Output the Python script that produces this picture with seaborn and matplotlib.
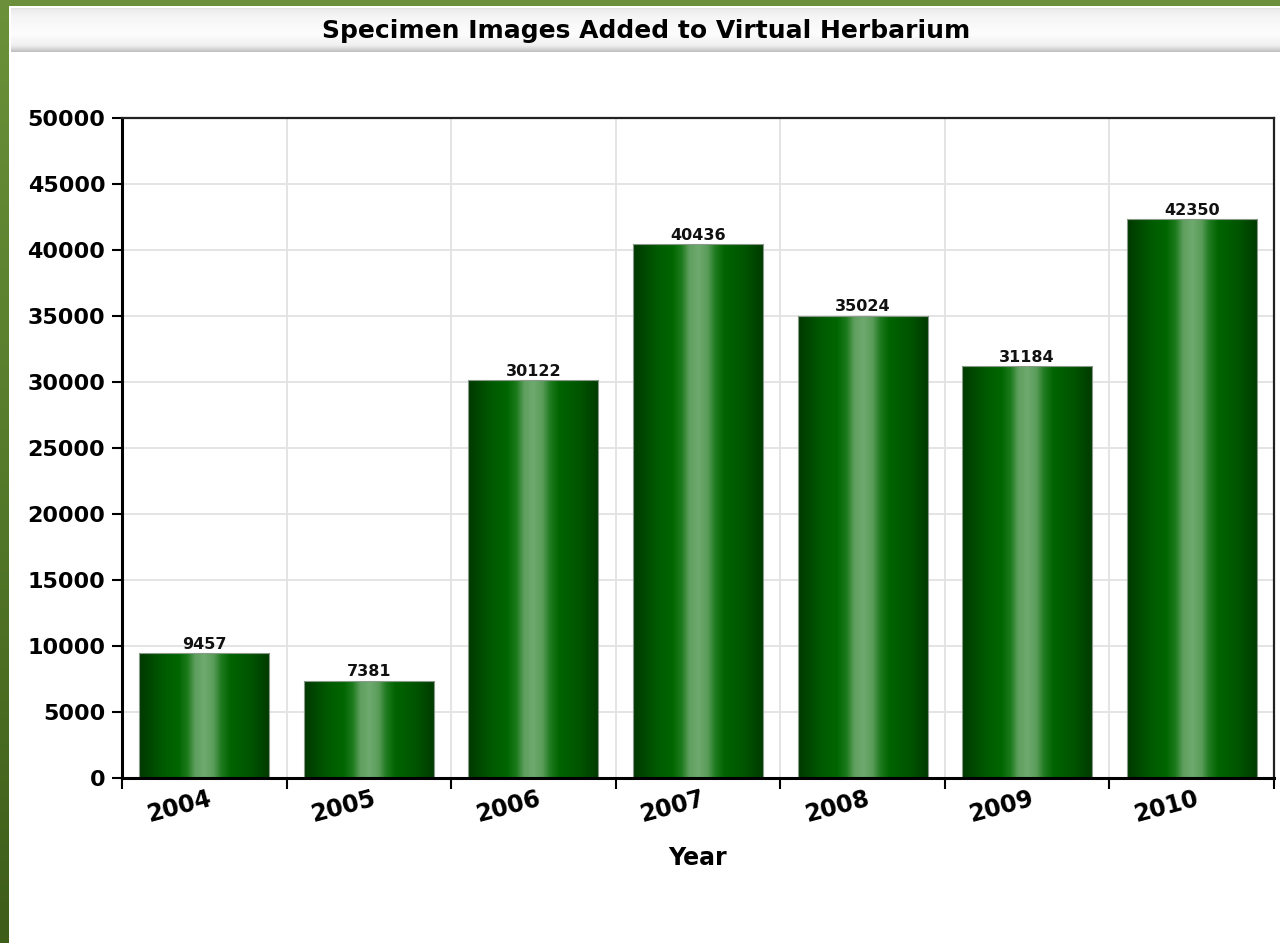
import numpy as np
import pandas as pd
import matplotlib
matplotlib.use("Agg")
import matplotlib.pyplot as plt
import seaborn as sns
from matplotlib.colors import LinearSegmentedColormap
from matplotlib.transforms import ScaledTranslation

# ---- data ----
years = ["2004", "2005", "2006", "2007", "2008", "2009", "2010"]
images_added = [9457, 7381, 30122, 40436, 35024, 31184, 42350]
y_ticks = [0, 5000, 10000, 15000, 20000, 25000, 30000, 35000, 40000, 45000, 50000]
title = "Specimen Images Added to Virtual Herbarium"
x_label = "Year"

sns.set_theme(style="white")
plt.rcParams["font.family"] = ["DejaVu Sans"]
plt.rcParams["text.color"] = "black"
plt.rcParams["axes.labelcolor"] = "black"
plt.rcParams["xtick.color"] = "black"
plt.rcParams["ytick.color"] = "black"

W, H = 1280, 943
fig = plt.figure(figsize=(W / 100, H / 100), dpi=100)
fig.patch.set_facecolor("white")


def px_axes(x0, y0, x1, y1, **kw):
    return fig.add_axes([x0 / W, 1 - y1 / H, (x1 - x0) / W, (y1 - y0) / H], **kw)


# ---- frame decorations (green page border + title bar) ----
strip = px_axes(0, 0, 9, H)
strip.imshow(np.linspace(0, 1, 256).reshape(-1, 1), aspect="auto",
             cmap=LinearSegmentedColormap.from_list("g", ["#6b913a", "#557a2a", "#3d5d19"]),
             extent=[0, 1, 0, 1], origin="upper")
strip.set_axis_off()
top = px_axes(0, 0, W, 6)
top.set_facecolor("#6b8f3a")
top.set_xticks([]); top.set_yticks([])
for s in top.spines.values():
    s.set_visible(False)

tbar = px_axes(11, 8, W, 52)
tb_cmap = LinearSegmentedColormap.from_list(
    "tb", [(0, "#dcdcdc"), (0.08, "#eeeeee"), (0.25, "#f6f6f6"), (0.6, "#fdfdfd"),
           (0.85, "#f0f0f0"), (0.93, "#d8d8d8"), (1, "#bdbdbd")])
tbar.imshow(np.linspace(0, 1, 256).reshape(-1, 1), aspect="auto", cmap=tb_cmap,
            extent=[0, 1, 0, 1], origin="upper")
tbar.set_axis_off()
fig.text(646 / W, 1 - 31 / H, title, ha="center", va="center",
         fontsize=18, fontweight="bold", color="black")

# ---- main chart ----
ax = px_axes(122, 118, 1274, 778)
df = pd.DataFrame({"Year": years, "Images": images_added})
sns.barplot(data=df, x="Year", y="Images", ax=ax, color="#006400",
            width=0.79, saturation=1, edgecolor="#8a9a8a", linewidth=0.8)

bar_cmap = LinearSegmentedColormap.from_list(
    "bar", [(0.0, "#003800"), (0.18, "#005a00"), (0.3, "#006600"), (0.37, "#1c7a1c"),
            (0.43, "#5f9f5f"), (0.5, "#6eaa6e"), (0.57, "#5a9c5a"), (0.63, "#1e7a1e"),
            (0.7, "#006400"), (0.85, "#005500"), (1.0, "#003a00")])
grad = np.linspace(0, 1, 256).reshape(1, -1)
for p in ax.patches:
    x, w, h = p.get_x(), p.get_width(), p.get_height()
    im = ax.imshow(grad, cmap=bar_cmap, aspect="auto",
                   extent=[x, x + w, 0, h], zorder=p.get_zorder() - 0.01)
    im.set_clip_path(p)
    p.set_facecolor("none")

for c in ax.containers:
    ax.bar_label(c, labels=[str(v) for v in images_added], padding=1,
                 fontsize=11.5, fontweight="bold", color="#111111")

ax.set_xlim(-0.5, len(years) - 0.5)
ax.set_ylim(0, 50000)
ax.set_yticks(y_ticks)
ax.set_yticklabels([str(v) for v in y_ticks])
ax.set_xticks(range(len(years)))
ax.set_xticklabels(years)
ax.set_xticks(np.arange(-0.5, len(years), 1.0), minor=True)

ax.grid(False)
ax.grid(which="minor", axis="x", color="#e2e2e2", lw=1.3)
ax.grid(which="major", axis="y", color="#e2e2e2", lw=1.3)
ax.set_axisbelow(True)

ax.tick_params(axis="x", which="major", length=0, pad=6, labelsize=17, labelcolor="black")
ax.tick_params(axis="x", which="minor", length=8, width=1.5, color="black",
               direction="out", bottom=True)
ax.tick_params(axis="y", which="major", length=7, width=1.5, color="black",
               direction="out", left=True, pad=5, labelsize=16, labelcolor="black")
for lab in ax.get_xticklabels():
    lab.set_rotation(15)
    lab.set_ha("right")
    lab.set_rotation_mode("anchor")
    lab.set_fontweight("bold")
    lab.set_transform(lab.get_transform() + ScaledTranslation(3 / 100, 0, fig.dpi_scale_trans))
for lab in ax.get_yticklabels():
    lab.set_fontweight("bold")

for side in ["left", "bottom"]:
    ax.spines[side].set_color("black")
    ax.spines[side].set_linewidth(2.2)
for side in ["top", "right"]:
    ax.spines[side].set_visible(True)
    ax.spines[side].set_color("#222222")
    ax.spines[side].set_linewidth(1.6)

ax.set_xlabel(x_label, fontsize=17, fontweight="bold", labelpad=14, color="black")
ax.set_ylabel("")

fig.savefig("out.png", dpi=100, facecolor="white")
